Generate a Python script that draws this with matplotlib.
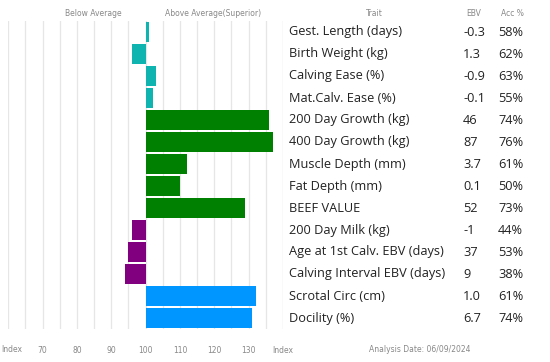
import matplotlib.pyplot as plt
from matplotlib.transforms import blended_transform_factory

traits = ["Gest. Length (days)", "Birth Weight (kg)", "Calving Ease (%)",
          "Mat.Calv. Ease (%)", "200 Day Growth (kg)", "400 Day Growth (kg)",
          "Muscle Depth (mm)", "Fat Depth (mm)", "BEEF VALUE", "200 Day Milk (kg)",
          "Age at 1st Calv. EBV (days)", "Calving Interval EBV (days)",
          "Scrotal Circ (cm)", "Docility (%)"]
ebv = ["-0.3", "1.3", "-0.9", "-0.1", "46", "87", "3.7", "0.1", "52", "-1",
       "37", "9", "1.0", "6.7"]
acc = ["58%", "62%", "63%", "55%", "74%", "76%", "61%", "50%", "73%", "44%",
       "53%", "38%", "61%", "74%"]
index = [101, 96, 103, 102, 136, 137, 112, 110, 129, 96, 95, 94, 132, 131]
group = ["calving", "calving", "calving", "calving", "growth", "growth", "growth",
         "growth", "growth", "fertility", "fertility", "fertility", "other", "other"]

tick_vals = [70, 80, 90, 100, 110, 120, 130, 140]
tick_labels = ["70", "80", "90", "100", "110", "120", "130", "Index"]

colors = {"calving": "#0fb3b0", "growth": "#008000",
          "fertility": "#800080", "other": "#0096ff"}

W, H = 550, 362
fig = plt.figure(figsize=(W / 100, H / 100), dpi=100)
# bar area: x 8..283 px, y 21..329 px
ax = fig.add_axes([8.3 / W, 1 - 329 / H, (283 - 8.3) / W, 308 / H])

n = len(traits)
ys = list(range(n))
for y, v, g in zip(ys, index, group):
    ax.barh(y, v - 100, left=100, height=0.91, color=colors[g], zorder=2)

for gx in range(60, 141, 5):
    ax.axvline(gx, color="#e6e6e6" if gx < 140 else "#d6d6d6", lw=0.9, zorder=1)

ax.set_xlim(60, 140)
ax.set_ylim(n - 0.5, -0.5)
ax.set_yticks([])
ax.set_xticks(tick_vals)
ax.set_xticklabels(tick_labels, fontsize=5.5, color="#888888")
ax.tick_params(axis="x", length=0, pad=12)
for s in ax.spines.values():
    s.set_visible(False)

tr = blended_transform_factory(fig.transFigure, ax.transData)
fs = 9.2
for y in ys:
    ax.text(289 / W, y, traits[y], transform=tr, fontsize=fs, color="#222222",
            va="center", ha="left", family="Open Sans")
    ax.text(463 / W, y, ebv[y], transform=tr, fontsize=fs, color="#222222",
            va="center", ha="left", family="Open Sans")
    ax.text(498 / W, y, acc[y], transform=tr, fontsize=fs, color="#222222",
            va="center", ha="left", family="Open Sans")

hy = 1 - 13 / H
hdr = dict(fontsize=5.5, color="#888888", va="center")
fig.text(93 / W, hy, "Below Average", ha="center", **hdr)
fig.text(213 / W, hy, "Above Average(Superior)", ha="center", **hdr)
fig.text(374 / W, hy, "Trait", ha="center", **hdr)
fig.text(474 / W, hy, "EBV", ha="center", **hdr)
fig.text(512 / W, hy, "Acc %", ha="center", **hdr)
fig.text(1 / W, 1 - 350 / H, "Index", ha="left", **hdr)
fig.text(420 / W, 1 - 350 / H, "Analysis Date: 06/09/2024", ha="center", **hdr)

fig.savefig("out.png", dpi=100)
